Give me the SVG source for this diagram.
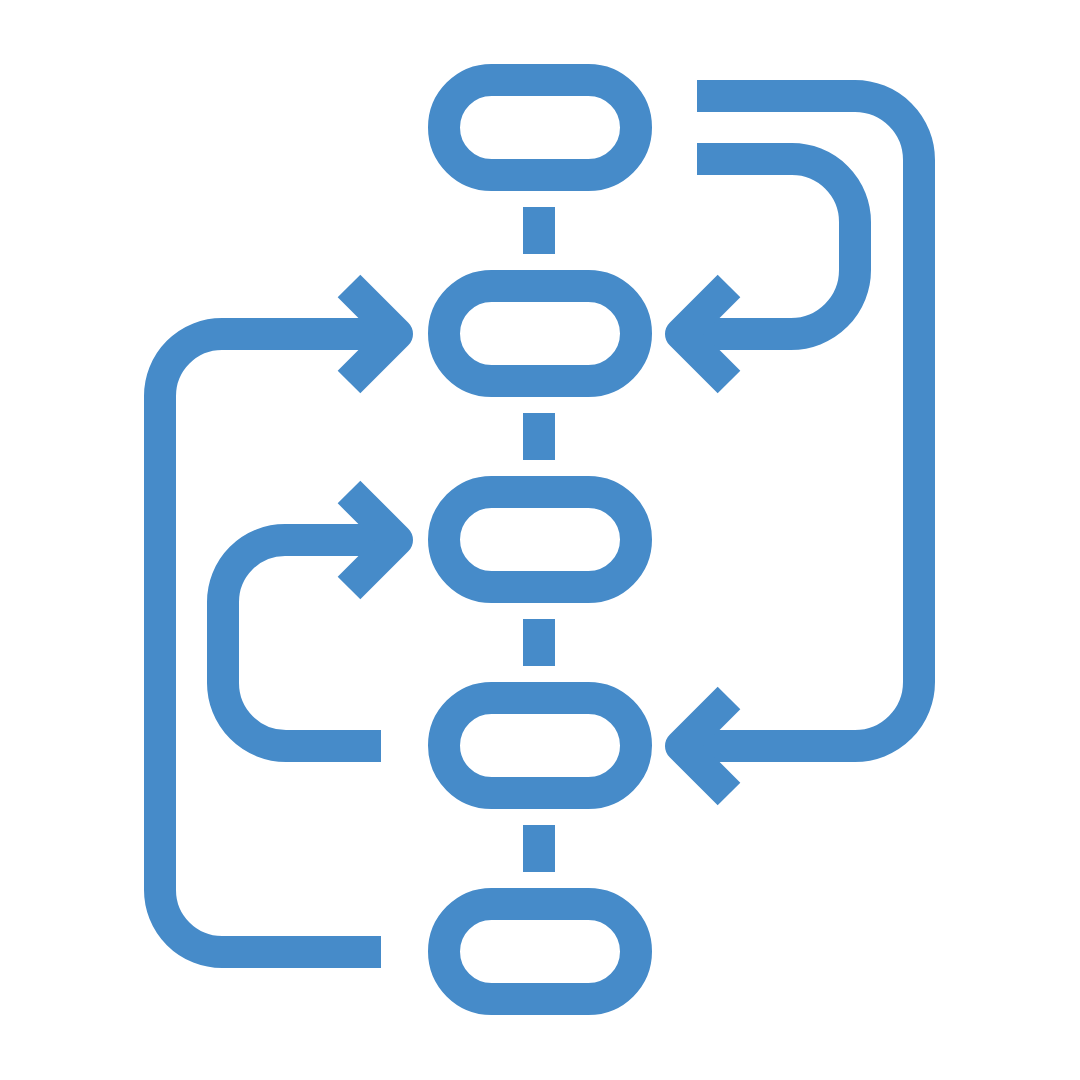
<svg xmlns="http://www.w3.org/2000/svg" width="1080" height="1080" viewBox="0 0 1080 1080">
<style>
.s{fill:none;stroke:#468BC9;stroke-width:32;stroke-linecap:butt;stroke-linejoin:round}
</style>
<rect width="1080" height="1080" fill="#FFFFFF"/>
<g id="node1"><rect class="s" x="444" y="80" width="192" height="95" rx="47.5"/></g>
<g id="node2"><rect class="s" x="444" y="286" width="192" height="95" rx="47.5"/></g>
<g id="node3"><rect class="s" x="444" y="492" width="192" height="95" rx="47.5"/></g>
<g id="node4"><rect class="s" x="444" y="698" width="192" height="95" rx="47.5"/></g>
<g id="node5"><rect class="s" x="444" y="904" width="192" height="95" rx="47.5"/></g>
<g id="connectors">
<path class="s" d="M539,207V254M539,413V460M539,619V666M539,825V872"/>
<path class="s" d="M697,96H855A64,64 0 0 1 919,160V682A64,64 0 0 1 855,746H684"/>
<polyline class="s" points="729,698 681,746 729,794"/>
<path class="s" d="M697,159H792A63,63 0 0 1 855,222V270A64,64 0 0 1 791,334H684"/>
<polyline class="s" points="729,286 681,334 729,382"/>
<path class="s" d="M381,952H222A62,62 0 0 1 160,890V396A62,62 0 0 1 222,334H394"/>
<polyline class="s" points="349,286 397,334 349,382"/>
<path class="s" d="M381,746H286A63,63 0 0 1 223,683V602A62,62 0 0 1 285,540H394"/>
<polyline class="s" points="349,492 397,540 349,588"/>
</g>
</svg>
